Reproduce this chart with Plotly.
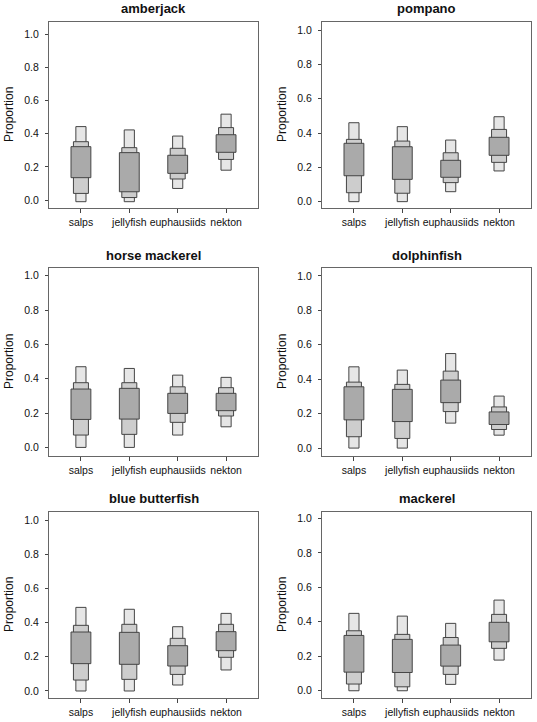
import plotly.graph_objects as go

categories = ["salps", "jellyfish", "euphausiids", "nekton"]
fish = ["amberjack", "pompano", "horse mackerel", "dolphinfish", "blue butterfish", "mackerel"]

# 95% interval bounds (one row per fish, columns follow categories)
lo95 = [[-0.01, -0.01, 0.070, 0.180],
        [0.000, 0.000, 0.058, 0.179],
        [0.000, 0.000, 0.072, 0.120],
        [0.000, 0.000, 0.145, 0.075],
        [0.000, 0.000, 0.035, 0.123],
        [0.000, 0.000, 0.037, 0.178]]
hi95 = [[0.443, 0.423, 0.386, 0.518],
        [0.460, 0.437, 0.359, 0.495],
        [0.470, 0.460, 0.421, 0.408],
        [0.472, 0.453, 0.549, 0.302],
        [0.489, 0.478, 0.376, 0.454],
        [0.449, 0.433, 0.391, 0.526]]
# 75% interval bounds
lo75 = [[0.040, 0.015, 0.127, 0.245],
        [0.052, 0.049, 0.111, 0.229],
        [0.072, 0.076, 0.146, 0.183],
        [0.066, 0.056, 0.212, 0.108],
        [0.064, 0.068, 0.097, 0.197],
        [0.039, 0.023, 0.095, 0.246]]
hi75 = [[0.352, 0.316, 0.312, 0.437],
        [0.363, 0.353, 0.285, 0.421],
        [0.377, 0.377, 0.353, 0.348],
        [0.383, 0.370, 0.447, 0.239],
        [0.384, 0.390, 0.308, 0.390],
        [0.348, 0.327, 0.309, 0.443]]
# 50% interval bounds
lo50 = [[0.135, 0.050, 0.161, 0.288],
        [0.151, 0.130, 0.142, 0.270],
        [0.163, 0.165, 0.198, 0.214],
        [0.164, 0.154, 0.264, 0.137],
        [0.160, 0.156, 0.146, 0.236],
        [0.108, 0.106, 0.143, 0.284]]
hi50 = [[0.322, 0.286, 0.270, 0.394],
        [0.340, 0.320, 0.241, 0.375],
        [0.340, 0.344, 0.315, 0.315],
        [0.356, 0.341, 0.395, 0.210],
        [0.345, 0.343, 0.265, 0.347],
        [0.321, 0.298, 0.265, 0.397]]

y_ticks = [0.0, 0.2, 0.4, 0.6, 0.8, 1.0]
y_title = "Proportion"

# layout (pixels)
W, H = 537, 722
col_px = [(49, 258), (322, 531)]
row_px = [(22, 208), (268, 456), (512, 698)]
y_ranges = [[-0.048, 1.074], [-0.037, 1.047], [-0.050, 1.045],
            [-0.046, 1.046], [-0.041, 1.047], [-0.042, 1.037]]

levels = [  # (lo, hi, width, fill)
    (lo95, hi95, 0.21, "#e6e6e6"),
    (lo75, hi75, 0.31, "#cdcdcd"),
    (lo50, hi50, 0.41, "#aaaaaa"),
]

FONT = "Liberation Sans, Arial, Helvetica, sans-serif"
fig = go.Figure()
annotations = []
for i, name in enumerate(fish):
    r, c = divmod(i, 2)
    ax = "" if i == 0 else str(i + 1)
    for lo, hi, w, col in levels:
        fig.add_trace(go.Bar(
            x=categories,
            y=[h - l for l, h in zip(lo[i], hi[i])],
            base=lo[i],
            width=w,
            marker=dict(color=col, line=dict(color="#454545", width=1)),
            xaxis="x" + ax, yaxis="y" + ax,
            showlegend=False, hoverinfo="skip",
        ))
    x0, x1 = col_px[c]
    y0, y1 = row_px[r]
    xd = [x0 / W, x1 / W]
    yd = [1 - y1 / H, 1 - y0 / H]
    fig.layout["xaxis" + ax] = dict(
        domain=xd, anchor="y" + ax, type="category",
        range=[-0.66, 3.66], showgrid=False, zeroline=False,
        showline=True, linecolor="#666666", linewidth=1, mirror=True,
        ticks="outside", ticklen=4, tickcolor="#444444",
        tickfont=dict(family=FONT, size=10.5, color="#111111"),
    )
    fig.layout["yaxis" + ax] = dict(
        domain=yd, anchor="x" + ax, range=y_ranges[i],
        tickvals=y_ticks, tickformat=".1f", showgrid=False, zeroline=False,
        showline=True, linecolor="#666666", linewidth=1, mirror=True,
        ticks="outside", ticklen=3, tickcolor="#444444",
        ticklabelstandoff=4,
        tickfont=dict(family=FONT, size=10.5, color="#111111"),
    )
    annotations.append(dict(
        text="<b>" + name + "</b>", x=(xd[0] + xd[1]) / 2, y=1 - (y0 - 13) / H,
        xref="paper", yref="paper", showarrow=False, xanchor="center", yanchor="middle",
        font=dict(family=FONT, size=13, color="#111111"),
    ))
    annotations.append(dict(
        text=y_title, x=(x0 - 40) / W, y=(yd[0] + yd[1]) / 2,
        xref="paper", yref="paper", showarrow=False, textangle=-90,
        xanchor="center", yanchor="middle",
        font=dict(family=FONT, size=12, color="#111111"),
    ))

fig.update_layout(
    width=W, height=H, margin=dict(l=0, r=0, t=0, b=0),
    paper_bgcolor="white", plot_bgcolor="white",
    barmode="overlay", annotations=annotations,
)
fig.write_html("out.html", config={"displayModeBar": False},
               post_script="document.body.style.margin='0px';document.body.style.overflow='hidden';")
